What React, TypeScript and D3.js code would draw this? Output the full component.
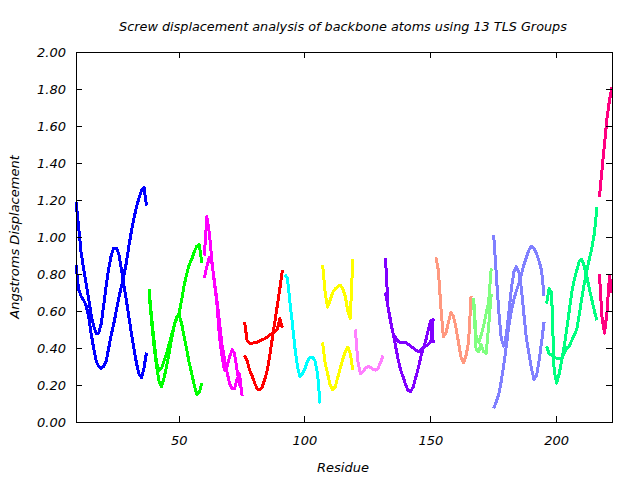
import React from "react";
import * as d3 from "d3";

const groupStarts = [9, 38, 60, 76, 92, 107, 120, 132, 152, 167, 175, 196, 217];
const groupColors = [
  "#0000ff", "#00ff00", "#ff00ff", "#ff0000", "#00ffff", "#ffff00", "#ff80ff",
  "#8000ff", "#ff9980", "#80ff80", "#8080ff", "#00ff80", "#ff0080",
];

const g1a = [1.19, 1.06, 0.92, 0.83, 0.75, 0.67, 0.58, 0.52, 0.48, 0.48, 0.53, 0.63, 0.74, 0.83, 0.9, 0.94, 0.94, 0.91, 0.83, 0.74, 0.66, 0.57, 0.48, 0.4, 0.32, 0.26, 0.24, 0.29, 0.375];
const g1b = [0.85, 0.72, 0.68, 0.66, 0.63, 0.57, 0.48, 0.4, 0.33, 0.3, 0.29, 0.3, 0.33, 0.4, 0.47, 0.53, 0.6, 0.67, 0.73, 0.79, 0.86, 0.95, 1.03, 1.1, 1.16, 1.21, 1.25, 1.27, 1.17];
const g2a = [0.72, 0.57, 0.44, 0.32, 0.28, 0.29, 0.33, 0.37, 0.42, 0.47, 0.52, 0.56, 0.59, 0.66, 0.74, 0.8, 0.85, 0.88, 0.92, 0.95, 0.96, 0.86];
const g2b = [0.7, 0.55, 0.41, 0.3, 0.22, 0.19, 0.24, 0.3, 0.37, 0.45, 0.52, 0.57, 0.58, 0.53, 0.46, 0.39, 0.32, 0.26, 0.2, 0.15, 0.16, 0.21];
const g3a = [0.9, 1.11, 1.02, 0.87, 0.75, 0.64, 0.46, 0.36, 0.28, 0.3, 0.35, 0.39, 0.37, 0.28, 0.2, 0.17];
const g3b = [0.78, 0.84, 0.89, 0.86, 0.76, 0.66, 0.54, 0.42, 0.34, 0.27, 0.21, 0.18, 0.18, 0.23, 0.26, 0.14];
const g4a = [0.54, 0.44, 0.425, 0.425, 0.43, 0.43, 0.44, 0.445, 0.45, 0.46, 0.47, 0.48, 0.49, 0.5, 0.56, 0.51];
const g4b = [0.36, 0.33, 0.28, 0.25, 0.21, 0.18, 0.173, 0.19, 0.23, 0.28, 0.36, 0.45, 0.54, 0.63, 0.72, 0.82];
const g5a = [0.795, 0.78, 0.65, 0.53, 0.4, 0.3, 0.245, 0.26, 0.29, 0.33, 0.35, 0.35, 0.33, 0.26, 0.1];
const g6a = [0.85, 0.7, 0.62, 0.66, 0.7, 0.72, 0.73, 0.74, 0.72, 0.68, 0.6, 0.56, 0.88];
const g6b = [0.43, 0.32, 0.26, 0.2, 0.175, 0.19, 0.24, 0.29, 0.34, 0.38, 0.405, 0.37, 0.28];
const g7a = [0.5, 0.33, 0.26, 0.27, 0.29, 0.3, 0.295, 0.285, 0.28, 0.29, 0.32, 0.36];
const g8a = [0.885, 0.62, 0.54, 0.48, 0.455, 0.435, 0.43, 0.43, 0.43, 0.42, 0.41, 0.4, 0.39, 0.38, 0.39, 0.4, 0.41, 0.42, 0.435, 0.56];
const g8b = [0.7, 0.62, 0.55, 0.48, 0.41, 0.34, 0.28, 0.245, 0.2, 0.17, 0.165, 0.19, 0.24, 0.29, 0.35, 0.4, 0.44, 0.5, 0.55, 0.425];
const g9a = [0.89, 0.82, 0.62, 0.46, 0.48, 0.54, 0.59, 0.57, 0.51, 0.43, 0.35, 0.32, 0.36, 0.43, 0.68];
const g10a = [0.67, 0.46, 0.43, 0.47, 0.52, 0.59, 0.65, 0.83];
const g10b = [0.65, 0.39, 0.38, 0.42, 0.38, 0.37, 0.52, 0.69];
const g11a = [1.01, 0.8, 0.6, 0.45, 0.41, 0.47, 0.59, 0.72, 0.81, 0.84, 0.81, 0.72, 0.58, 0.45, 0.37, 0.29, 0.23, 0.25, 0.33, 0.43, 0.54];
const g11b = [0.074, 0.11, 0.15, 0.22, 0.31, 0.41, 0.52, 0.6, 0.66, 0.71, 0.75, 0.8, 0.85, 0.89, 0.93, 0.95, 0.94, 0.91, 0.87, 0.82, 0.68];
const g12a = [0.64, 0.72, 0.7, 0.28, 0.21, 0.26, 0.33, 0.41, 0.5, 0.6, 0.7, 0.77, 0.82, 0.87, 0.88, 0.84, 0.785, 0.72, 0.66, 0.6, 0.55];
const g12b = [0.41, 0.37, 0.36, 0.35, 0.345, 0.345, 0.345, 0.37, 0.4, 0.41, 0.44, 0.47, 0.5, 0.58, 0.67, 0.75, 0.82, 0.88, 0.94, 1.02, 1.16];
const g13a = [1.215, 1.36, 1.5, 1.64, 1.74, 1.81];
const g13b = [0.8, 0.57, 0.48, 0.59, 0.79, 0.7];

const groupSeries = [
  [g1a, g1b], [g2a, g2b], [g3a, g3b], [g4a, g4b], [g5a], [g6a, g6b], [g7a],
  [g8a, g8b], [g9a], [g10a, g10b], [g11a, g11b], [g12a, g12b], [g13a, g13b],
];

const xTicks = [50, 100, 150, 200];
const yTicks = [0, 0.2, 0.4, 0.6, 0.8, 1.0, 1.2, 1.4, 1.6, 1.8, 2.0];
const title = "Screw displacement analysis of backbone atoms using 13 TLS Groups";
const xTitle = "Residue";
const yTitle = "Angstroms Displacement";

const W = 640, H = 480;
const L = 76, R = 612, T = 52, B = 422;

export default function App() {
  const x = d3.scaleLinear().domain([9, 222]).range([L, R]);
  const y = d3.scaleLinear().domain([0, 2]).range([B, T]);
  const line = d3.line<[number, number]>().x((d) => x(d[0])).y((d) => y(d[1]));
  const font = "'DejaVu Sans', sans-serif";
  return (
    <svg width={W} height={H} style={{ position: "absolute", left: 0, top: 0 }}>
      <rect width={W} height={H} fill="#fff" />
      <text x={343} y={31} textAnchor="middle" fontFamily={font} fontStyle="italic" fontSize={12.8} fill="#000">{title}</text>
      {groupSeries.map((ser, gi) =>
        ser.map((vals, si) => (
          <path
            key={gi + "-" + si}
            d={line(vals.map((v, i) => [groupStarts[gi] + i, v] as [number, number])) || ""}
            fill="none"
            stroke={groupColors[gi]}
            strokeWidth={3}
            strokeLinejoin="round"
            shapeRendering="crispEdges"
          />
        ))
      )}
      <rect x={L} y={T} width={R - L} height={B - T} fill="none" stroke="#000" strokeWidth={1} shapeRendering="crispEdges" />
      {yTicks.map((t) => (
        <g key={"y" + t}>
          <line x1={L} x2={L + 6} y1={y(t)} y2={y(t)} stroke="#000" shapeRendering="crispEdges" />
          <line x1={R - 6} x2={R} y1={y(t)} y2={y(t)} stroke="#000" shapeRendering="crispEdges" />
          <text x={66} y={y(t) + 4.5} textAnchor="end" fontFamily={font} fontStyle="italic" fontSize={13} fill="#000">{t.toFixed(2)}</text>
        </g>
      ))}
      {xTicks.map((t) => (
        <g key={"x" + t}>
          <line x1={x(t)} x2={x(t)} y1={B} y2={B - 6} stroke="#000" shapeRendering="crispEdges" />
          <line x1={x(t)} x2={x(t)} y1={T} y2={T + 6} stroke="#000" shapeRendering="crispEdges" />
          <text x={x(t)} y={445} textAnchor="middle" fontFamily={font} fontStyle="italic" fontSize={13} fill="#000">{t}</text>
        </g>
      ))}
      <text x={343} y={472} textAnchor="middle" fontFamily={font} fontStyle="italic" fontSize={13} fill="#000">{xTitle}</text>
      <text transform={`translate(19, ${(T + B) / 2}) rotate(-90)`} textAnchor="middle" fontFamily={font} fontStyle="italic" fontSize={13} fill="#000">{yTitle}</text>
    </svg>
  );
}
